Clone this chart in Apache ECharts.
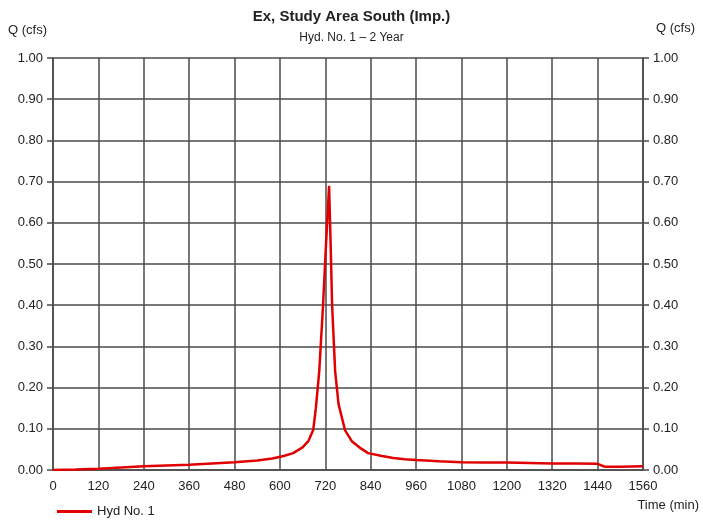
<!DOCTYPE html>
<html>
<head>
<meta charset="utf-8">
<script src="https://cdn.jsdelivr.net/npm/echarts@6/dist/echarts.min.js"></script>
<style>
html, body { margin: 0; padding: 0; background: #fff; }
#chart { width: 703px; height: 523px; }
</style>
</head>
<body>
<div id="chart"></div>
<script>
// hydrograph
var times = [0, 60, 120, 180, 240, 300, 360, 420, 480, 540, 580, 610, 635, 660, 675, 688, 695, 704, 714, 722, 730,
	734, 738, 746, 755, 772, 790, 810, 833, 870, 900, 930, 960, 1020, 1080, 1140, 1200, 1260, 1320, 1380, 1440, 1450, 1460, 1500, 1560];
var flows = [0.000, 0.001, 0.003, 0.006, 0.009, 0.011, 0.013, 0.016, 0.019, 0.023, 0.028, 0.034, 0.041, 0.055, 0.070, 0.097, 0.150, 0.240, 0.400, 0.550, 0.690,
	0.550, 0.400, 0.240, 0.160, 0.097, 0.070, 0.055, 0.041, 0.034, 0.029, 0.026, 0.024, 0.021, 0.019, 0.018, 0.018, 0.017, 0.016, 0.016, 0.015, 0.011, 0.008, 0.008, 0.009];
var xTicks = [0, 120, 240, 360, 480, 600, 720, 840, 960, 1080, 1200, 1320, 1440, 1560];
var yTicks = [0, 0.1, 0.2, 0.3, 0.4, 0.5, 0.6, 0.7, 0.8, 0.9, 1.0];

var font = '"Liberation Sans Narrow", "Liberation Sans", Arial, sans-serif';
var gridColor = '#4a4a4a';

var pts = times.map(function(t, i) { return [t, flows[i]]; });

var chart = echarts.init(document.getElementById('chart'));

function yAxisOpt(pos) {
	return {
		type: 'value',
		position: pos,
		min: yTicks[0],
		max: yTicks[yTicks.length - 1],
		interval: 0.1,
		axisLine: { show: true, lineStyle: { color: gridColor, width: 1.5 } },
		axisTick: { show: true, length: 6, lineStyle: { color: gridColor, width: 1.5 } },
		splitLine: { show: pos === 'left', lineStyle: { color: gridColor, width: 1.5 } },
		axisLabel: {
			color: '#222', fontFamily: font, fontSize: 13, margin: 10,
			formatter: function(v) { return v.toFixed(2); }
		}
	};
}

chart.setOption({
	animation: false,
	textStyle: { fontFamily: font },
	title: {
		text: 'Ex, Study Area South (Imp.)',
		subtext: 'Hyd. No. 1 \u2013 2 Year',
		left: 'center',
		top: 4,
		itemGap: 8,
		textStyle: { fontFamily: font, fontSize: 15, fontWeight: 'bold', color: '#222' },
		subtextStyle: { fontFamily: font, fontSize: 12, color: '#222' }
	},
	legend: {
		left: 52,
		bottom: 0,
		icon: 'rect',
		itemWidth: 35,
		itemHeight: 3,
		textStyle: { fontFamily: font, fontSize: 13, color: '#222' },
		data: ['Hyd No. 1']
	},
	graphic: [
		{ type: 'text', left: 8, top: 24, style: { text: 'Q (cfs)', font: '13px ' + font, fill: '#222' } },
		{ type: 'text', right: 8, top: 22, style: { text: 'Q (cfs)', font: '13px ' + font, fill: '#222' } },
		{ type: 'text', right: 4, top: 499, style: { text: 'Time (min)', font: '13px ' + font, fill: '#222' } }
	],
	grid: { left: 53, right: 60, top: 58, bottom: 53 },
	xAxis: {
		type: 'value',
		min: xTicks[0],
		max: xTicks[xTicks.length - 1],
		interval: 120,
		axisLine: { show: true, lineStyle: { color: gridColor, width: 1.5 } },
		axisTick: { show: false },
		splitLine: { show: true, lineStyle: { color: gridColor, width: 1.5 } },
		axisLabel: {
			color: '#222', fontFamily: font, fontSize: 13, margin: 10,
			formatter: function(v) { return String(v); }
		}
	},
	yAxis: [yAxisOpt('left'), yAxisOpt('right')],
	series: [{
		name: 'Hyd No. 1',
		type: 'line',
		data: pts,
		showSymbol: false,
		symbol: 'none',
		color: '#e00000',
		lineStyle: { color: '#e00000', width: 2.5 }
	}]
});
</script>
</body>
</html>
